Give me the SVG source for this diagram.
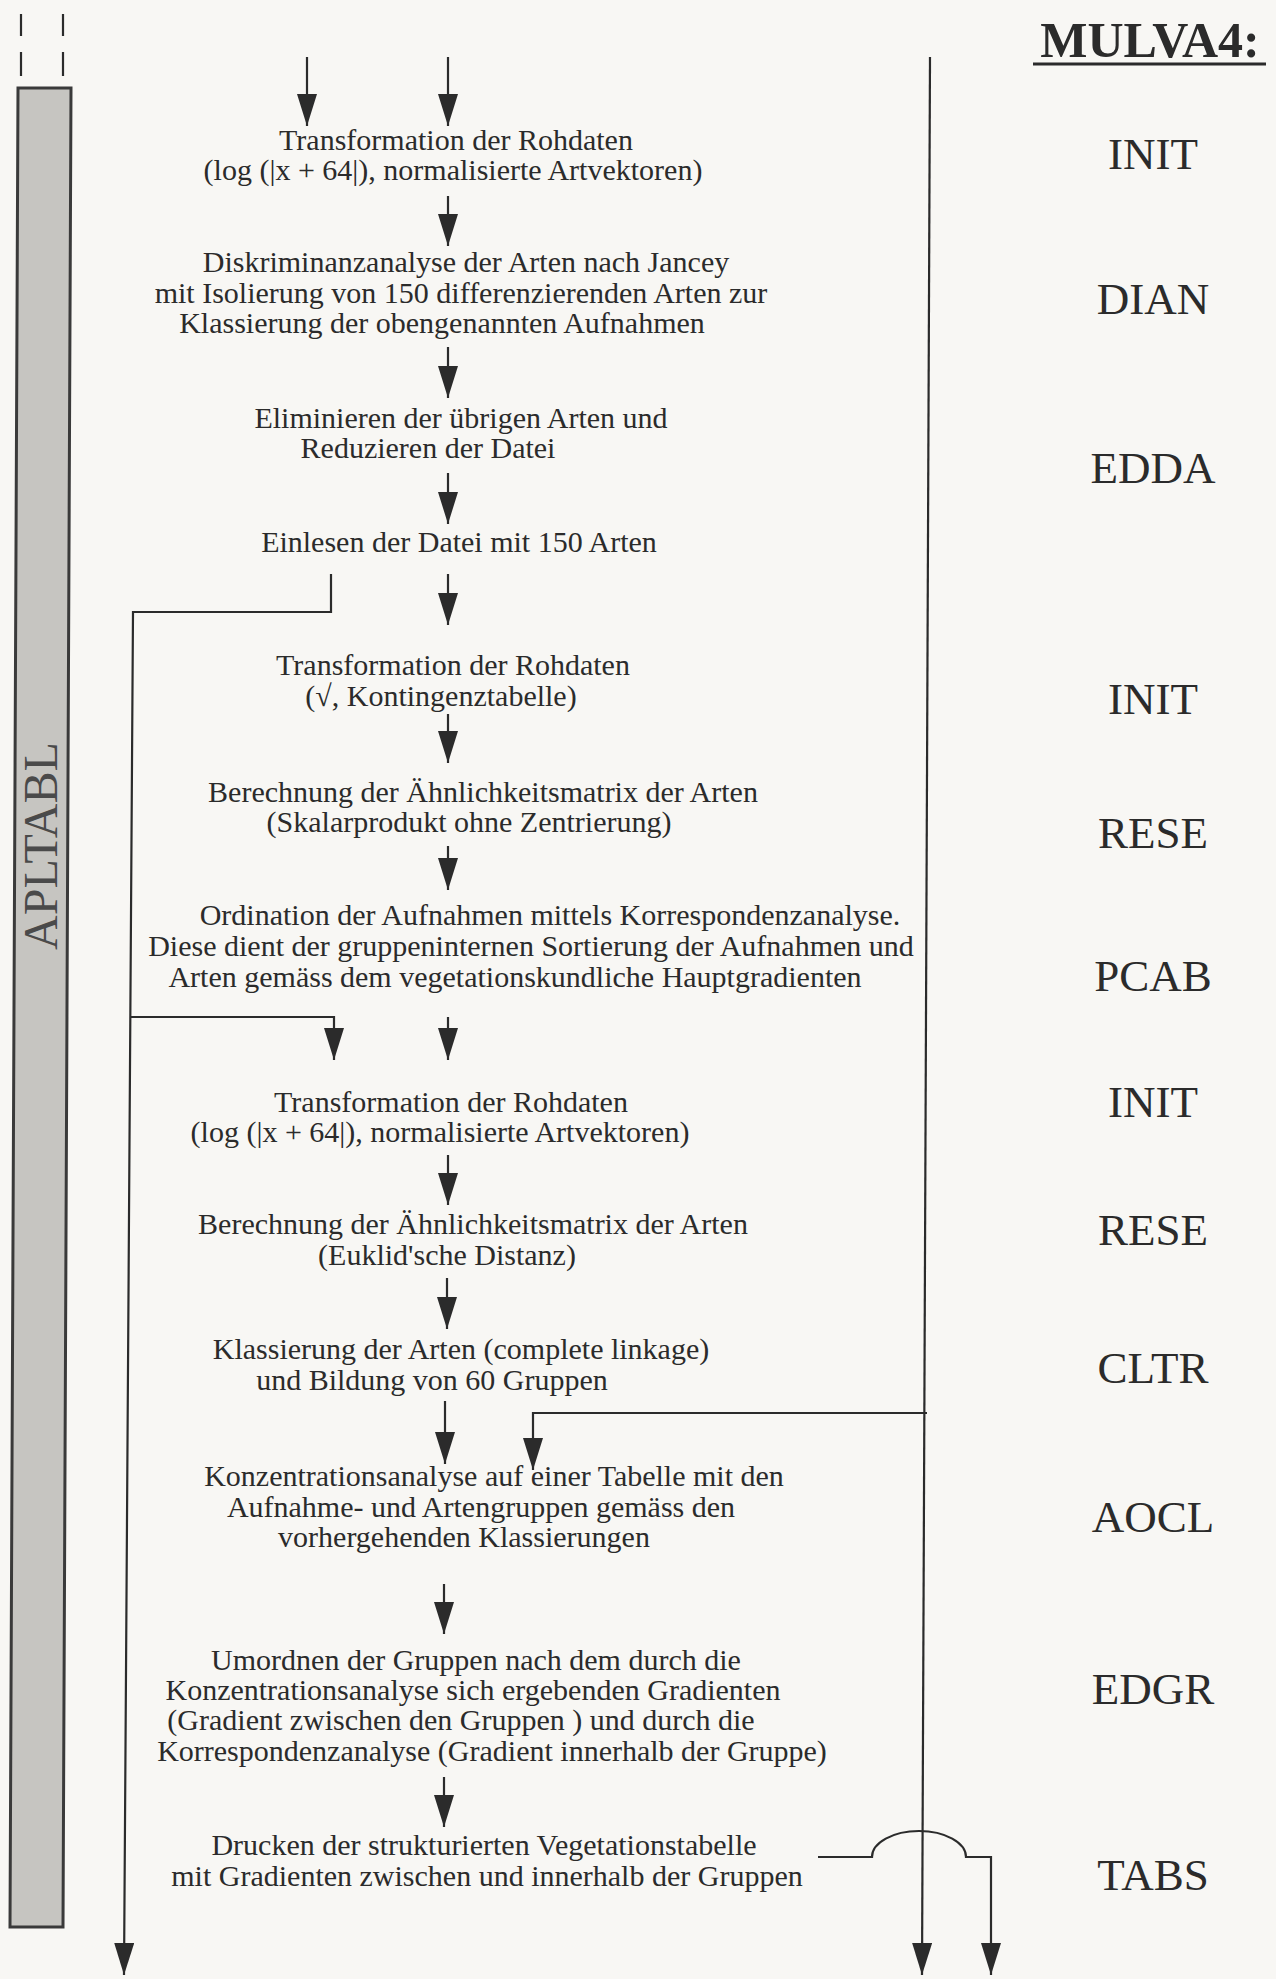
<svg xmlns="http://www.w3.org/2000/svg" width="1276" height="1979" viewBox="0 0 1276 1979">
<style>
.t{font-family:"Liberation Serif","Times New Roman",serif;font-size:30px;fill:#2b2b2b;text-anchor:middle}
.l{font-family:"Liberation Serif","Times New Roman",serif;font-size:45px;fill:#2b2b2b;text-anchor:middle}
.c{fill:none;stroke:#2b2b2b;stroke-width:2.2}
</style>
<defs>
<marker id="ah" markerUnits="userSpaceOnUse" viewBox="0 0 32 20" refX="32" refY="10" markerWidth="32" markerHeight="20" orient="auto">
<path d="M0,0 L32,10 L0,20 z" fill="#2b2b2b"/>
</marker>
</defs>
<rect width="1276" height="1979" fill="#f8f7f4"/>
<g id="marks">
<line x1="21" y1="14" x2="21" y2="36" class="c"/>
<line x1="63" y1="14" x2="63" y2="36" class="c"/>
<line x1="21" y1="52" x2="21" y2="76" class="c"/>
<line x1="63" y1="52" x2="63" y2="76" class="c"/>
</g>
<g id="apltabl">
<polygon points="18,88 71,88 63,1927 10,1927" fill="#c6c5c1" stroke="#3a3a3a" stroke-width="3"/>
<text class="l" transform="translate(57,846) rotate(-90)" style="font-size:48px;fill:#4a4a4a">APLTABL</text>
</g>
<g id="mulva4">
<text x="1150" y="57" style="font-family:'Liberation Serif','Times New Roman',serif;font-size:50px;font-weight:bold;fill:#2b2b2b;text-anchor:middle">MULVA4:</text>
<line x1="1033" y1="64" x2="1266" y2="64" stroke="#2b2b2b" stroke-width="3"/>
</g>
<g id="labels">
<text class="l" x="1153" y="169">INIT</text>
<text class="l" x="1153" y="314">DIAN</text>
<text class="l" x="1153" y="483">EDDA</text>
<text class="l" x="1153" y="714">INIT</text>
<text class="l" x="1153" y="848">RESE</text>
<text class="l" x="1153" y="991">PCAB</text>
<text class="l" x="1153" y="1117">INIT</text>
<text class="l" x="1153" y="1245">RESE</text>
<text class="l" x="1153" y="1383">CLTR</text>
<text class="l" x="1153" y="1532">AOCL</text>
<text class="l" x="1153" y="1704">EDGR</text>
<text class="l" x="1153" y="1890">TABS</text>
</g>
<g id="n1"><text class="t" x="456" y="150">Transformation der Rohdaten</text><text class="t" x="453" y="180">(log (|x + 64|), normalisierte Artvektoren)</text></g>
<g id="n2"><text class="t" x="466" y="272">Diskriminanzanalyse der Arten nach Jancey</text><text class="t" x="461" y="303">mit Isolierung von 150 differenzierenden Arten zur</text><text class="t" x="442" y="333">Klassierung der obengenannten Aufnahmen</text></g>
<g id="n3"><text class="t" x="461" y="428">Eliminieren der übrigen Arten und</text><text class="t" x="428" y="458">Reduzieren der Datei</text></g>
<g id="n4"><text class="t" x="459" y="552">Einlesen der Datei mit 150 Arten</text></g>
<g id="n5"><text class="t" x="453" y="675">Transformation der Rohdaten</text><text class="t" x="441" y="706">(√, Kontingenztabelle)</text></g>
<g id="n6"><text class="t" x="483" y="802">Berechnung der Ähnlichkeitsmatrix der Arten</text><text class="t" x="469" y="832">(Skalarprodukt ohne Zentrierung)</text></g>
<g id="n7"><text class="t" x="550" y="925">Ordination der Aufnahmen mittels Korrespondenzanalyse.</text><text class="t" x="531" y="956">Diese dient der gruppeninternen Sortierung der Aufnahmen und</text><text class="t" x="515" y="987">Arten gemäss dem vegetationskundliche Hauptgradienten</text></g>
<g id="n8"><text class="t" x="451" y="1112">Transformation der Rohdaten</text><text class="t" x="440" y="1142">(log (|x + 64|), normalisierte Artvektoren)</text></g>
<g id="n9"><text class="t" x="473" y="1234">Berechnung der Ähnlichkeitsmatrix der Arten</text><text class="t" x="447" y="1265">(Euklid'sche Distanz)</text></g>
<g id="n10"><text class="t" x="461" y="1359">Klassierung der Arten (complete linkage)</text><text class="t" x="432" y="1390">und Bildung von 60 Gruppen</text></g>
<g id="n11"><text class="t" x="494" y="1486">Konzentrationsanalyse auf einer Tabelle mit den</text><text class="t" x="481" y="1517">Aufnahme- und Artengruppen gemäss den</text><text class="t" x="464" y="1547">vorhergehenden Klassierungen</text></g>
<g id="n12"><text class="t" x="476" y="1670">Umordnen der Gruppen nach dem durch die</text><text class="t" x="473" y="1700">Konzentrationsanalyse sich ergebenden Gradienten</text><text class="t" x="461" y="1730">(Gradient zwischen den Gruppen ) und durch die</text><text class="t" x="492" y="1761">Korrespondenzanalyse (Gradient innerhalb der Gruppe)</text></g>
<g id="n13"><text class="t" x="484" y="1855">Drucken der strukturierten Vegetationstabelle</text><text class="t" x="487" y="1886">mit Gradienten zwischen und innerhalb der Gruppen</text></g>
<g id="connectors" class="c">
<line x1="307" y1="57" x2="307" y2="126" marker-end="url(#ah)"/>
<line x1="448" y1="57" x2="448" y2="126" marker-end="url(#ah)"/>
<line x1="448" y1="196" x2="448" y2="246" marker-end="url(#ah)"/>
<line x1="448" y1="347" x2="448" y2="398" marker-end="url(#ah)"/>
<line x1="448" y1="473" x2="448" y2="524" marker-end="url(#ah)"/>
<line x1="448" y1="574" x2="448" y2="625" marker-end="url(#ah)"/>
<polyline points="331,574 331,612 133,612 124,1975" marker-end="url(#ah)"/>
<line x1="448" y1="714" x2="448" y2="763" marker-end="url(#ah)"/>
<line x1="448" y1="846" x2="448" y2="890" marker-end="url(#ah)"/>
<polyline points="130,1017 334,1017 334,1060" marker-end="url(#ah)"/>
<line x1="448" y1="1017" x2="448" y2="1060" marker-end="url(#ah)"/>
<line x1="448" y1="1155" x2="448" y2="1205" marker-end="url(#ah)"/>
<line x1="447" y1="1278" x2="447" y2="1329" marker-end="url(#ah)"/>
<line x1="445" y1="1401" x2="445" y2="1464" marker-end="url(#ah)"/>
<polyline points="927,1413 533,1413 533,1470" marker-end="url(#ah)"/>
<line x1="444" y1="1584" x2="444" y2="1634" marker-end="url(#ah)"/>
<line x1="444" y1="1777" x2="444" y2="1827" marker-end="url(#ah)"/>
<line x1="930" y1="57" x2="922" y2="1975" marker-end="url(#ah)"/>
<path d="M818,1857 L872,1857 A47,26 0 0 1 966,1857 L991,1857 L991,1975" marker-end="url(#ah)"/>
</g>
</svg>
